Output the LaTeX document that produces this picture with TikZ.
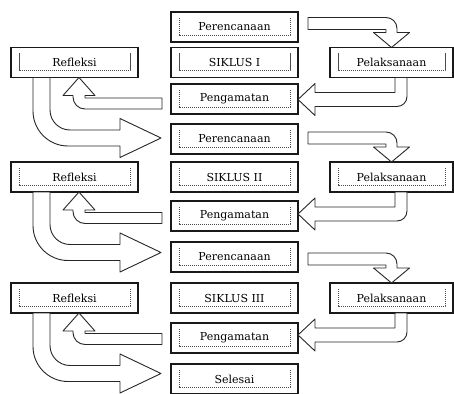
\documentclass[tikz,border=0pt]{standalone}
\usepackage{fontspec}
\setmainfont{DejaVu Serif}
\usetikzlibrary{calc}
\tikzset{
  kotak/.style={draw=black!90, line width=1.3pt, minimum width=127pt, minimum height=30pt,
    inner sep=0pt, text=black, font=\fontsize{11}{13}\selectfont,
    path picture={\draw[black!70, line width=0.55pt, dash pattern=on 1.2pt off 0.8pt]
      ([xshift=8pt,yshift=-6pt]path picture bounding box.north west)
      |- ([xshift=-8pt,yshift=7pt]path picture bounding box.south east)
      -- ([xshift=-8pt,yshift=-6pt]path picture bounding box.north east);}},
  panah/.style={draw=black!85, fill=white, line width=0.9pt, line join=round}
}

\begin{document}
\begin{tikzpicture}[x=1pt,y=1pt]
			\useasboundingbox (0,0) rectangle (454,-393);
			%%%%% START %%%%%
			\foreach \ys/\yp/\yg/\lab [count=\i] in {62.5/27/99/I, 177/139/216/II, 298/257/338/III}{
				\node[kotak] (per\i) at (234.5,-\yp) {Perencanaan};
				\node[kotak] (sik\i) at (234.5,-\ys) {SIKLUS \lab};
				\node[kotak] (pen\i) at (234.5,-\yg) {Pengamatan};
				\node[kotak] (ref\i) at (74.5,-\ys) {Refleksi};
				\node[kotak, minimum width=123pt] (pel\i) at (391.5,-\ys) {Pelaksanaan};
				
				\begin{scope}[shift={(sik\i.center)}]
					% perencanaan -> pelaksanaan
					\draw[panah] (73.5,45) -- (151.5,45) arc (90:0:11) -- (162.5,30) -- (175,30)
						-- (157,15) -- (139,30) -- (151.5,30) -- (151.5,33) -- (73.5,33) -- cycle;
					% pelaksanaan -> pengamatan
					\draw[panah] (160.5,-15) -- (160.5,-30) -- (80.5,-30) -- (80.5,-21) -- (63.5,-37)
						-- (80.5,-53) -- (80.5,-44) -- (162.5,-44) arc (270:360:10) -- (172.5,-15) -- cycle;
					% pengamatan -> refleksi
					\draw[panah] (-72.5,-35.5) -- (-149.5,-35.5) -- (-149.5,-33) -- (-139.5,-33)
						-- (-155.5,-15) -- (-171.5,-33) -- (-161.5,-33) -- (-161.5,-34.5) arc (180:270:12)
						-- (-72.5,-46.5) -- cycle;
					% refleksi -> perencanaan / selesai
					\draw[panah] (-201.5,-15) -- (-201.5,-48.5) arc (180:270:35) -- (-114.5,-83.5)
						-- (-114.5,-95) -- (-73.5,-75.5) -- (-114.5,-56) -- (-114.5,-67.5) -- (-164.5,-67.5)
						arc (270:180:20) -- (-184.5,-15) -- cycle;
				\end{scope}
			}
			
			\node[kotak] (sel) at (234.5,-379) {Selesai};
			%%%%% END %%%%%
\end{tikzpicture}
\end{document}
